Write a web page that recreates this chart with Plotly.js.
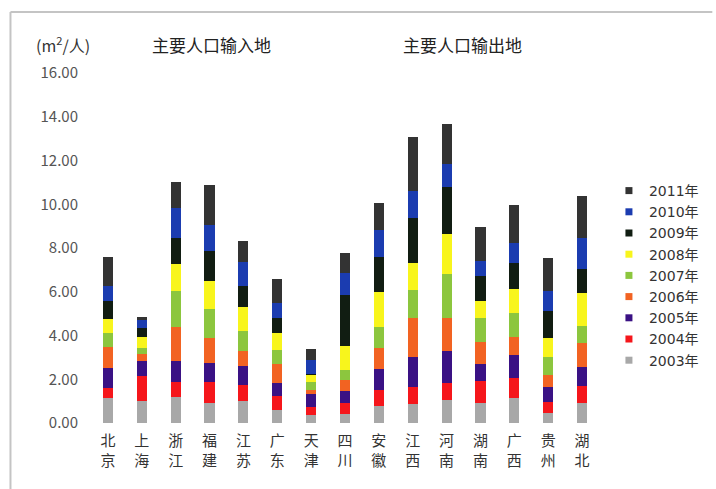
<!DOCTYPE html>
<html>
<head>
<meta charset="utf-8">
<script src="https://cdn.plot.ly/plotly-3.0.1.min.js"></script>
<style>html,body{margin:0;padding:0;background:#fff;}#chart{width:716px;height:489px;}</style>
</head>
<body>
<div id="chart"></div>
<script>
const categories = ["北京","上海","浙江","福建","江苏","广东","天津","四川","安徽","江西","河南","湖南","广西","贵州","湖北"];
const years = ["2003年","2004年","2005年","2006年","2007年","2008年","2009年","2010年","2011年"];
const y2003 = [1.16, 0.99, 1.21, 0.91, 0.99, 0.61, 0.37, 0.43, 0.79, 0.88, 1.07, 0.91, 1.14, 0.46, 0.91];
const y2004 = [0.46, 1.14, 0.67, 0.95, 0.76, 0.64, 0.38, 0.49, 0.70, 0.76, 0.76, 1.03, 0.91, 0.48, 0.76];
const y2005 = [0.91, 0.72, 0.95, 0.88, 0.84, 0.58, 0.58, 0.53, 0.99, 1.40, 1.45, 0.76, 1.07, 0.70, 0.91];
const y2006 = [0.95, 0.30, 1.56, 1.14, 0.69, 0.87, 0.18, 0.50, 0.97, 1.76, 1.53, 1.02, 0.81, 0.56, 1.07];
const y2007 = [0.63, 0.27, 1.65, 1.34, 0.91, 0.65, 0.38, 0.49, 0.96, 1.29, 1.98, 1.07, 1.10, 0.84, 0.79];
const y2008 = [0.64, 0.50, 1.25, 1.28, 1.10, 0.76, 0.31, 1.07, 1.60, 1.22, 1.83, 0.81, 1.11, 0.84, 1.52];
const y2009 = [0.81, 0.44, 1.19, 1.37, 0.96, 0.69, 0.05, 2.32, 1.57, 2.06, 2.16, 1.10, 1.18, 1.26, 1.07];
const y2010 = [0.72, 0.35, 1.37, 1.16, 1.11, 0.69, 0.64, 1.04, 1.25, 1.22, 1.08, 0.69, 0.91, 0.91, 1.42];
const y2011 = [1.29, 0.12, 1.19, 1.86, 0.95, 1.10, 0.49, 0.91, 1.22, 2.49, 1.83, 1.57, 1.75, 1.48, 1.94];
const series = [y2003, y2004, y2005, y2006, y2007, y2008, y2009, y2010, y2011];
const colors = ["#a8a8a8","#f5161b","#3a1184","#f26322","#8cc63e","#f8f51c","#111d12","#1b3cb0","#333333"];
const tickLabels = categories.map(c => c[0] + "<br>" + c[1]);
const yTicks = [0,2,4,6,8,10,12,14,16];

const font = "'Noto Sans CJK SC', 'Noto Sans', sans-serif";
const legendFont = "'DejaVu Sans', 'Noto Sans CJK SC', sans-serif";
const traces = [];
series.forEach((vals, i) => {
  traces.push({type:"bar", x: categories, y: vals, name: years[i], width: 0.3,
    marker:{color: colors[i], line:{width:0}}, showlegend:false, hoverinfo:"y"});
});
series.forEach((vals, i) => {
  traces.push({type:"scatter", mode:"markers", x:[null], y:[null], name: years[i],
    marker:{symbol:"square", size:7, color: colors[i]}, showlegend:true});
});

const L = 91, R = 602, T = 73, B = 423;
const px = v => (v - L) / (R - L);
const py = v => (B - v) / (B - T);

const layout = {
  width: 716, height: 489,
  margin: {l: L, r: 716 - R, t: T, b: 489 - B, pad: 0},
  paper_bgcolor: "#ffffff", plot_bgcolor: "#ffffff",
  barmode: "stack",
  font: {family: font, color: "#333"},
  xaxis: {type:"category", tickvals: categories, ticktext: tickLabels, showgrid:false, zeroline:false,
    showline:false, ticks:"", ticklabelstandoff: 7, tickfont:{size:15, color:"#333", family:font}, fixedrange:true},
  yaxis: {range:[0,16], tickvals: yTicks, tickformat:".2f", showgrid:false, zeroline:false, showline:false,
    ticks:"", ticklabelstandoff: 12, tickfont:{size:15, color:"#555", family:font}, fixedrange:true},
  legend: {x: px(612), y: py(175), xanchor:"left", yanchor:"top", traceorder:"reversed",
    font:{size:14, color:"#333", family:legendFont}, bgcolor:"rgba(0,0,0,0)", tracegroupgap:0, itemwidth:30},
  annotations: [
    {xref:"paper", yref:"paper", x: px(34), y: py(45), xanchor:"left", yanchor:"middle", showarrow:false,
      text:"(m<sup>2</sup>/人)", font:{size:16, color:"#333", family:font}},
    {xref:"paper", yref:"paper", x: px(212), y: py(45), xanchor:"center", yanchor:"middle", showarrow:false,
      text:"主要人口输入地", font:{size:17, color:"#222", family:font}},
    {xref:"paper", yref:"paper", x: px(465), y: py(45), xanchor:"center", yanchor:"middle", showarrow:false,
      text:"主要人口输出地", font:{size:17, color:"#222", family:font}}
  ],
  shapes: [
    {type:"line", xref:"paper", yref:"paper", x0: px(10), x1: px(10), y0: py(12), y1: py(489), line:{color:"#c4c4c4", width:2}},
    {type:"line", xref:"paper", yref:"paper", x0: px(10), x1: px(716), y0: py(12), y1: py(12), line:{color:"#c4c4c4", width:2}}
  ]
};
Plotly.newPlot("chart", traces, layout, {displayModeBar:false, staticPlot:true});
</script>
</body>
</html>
